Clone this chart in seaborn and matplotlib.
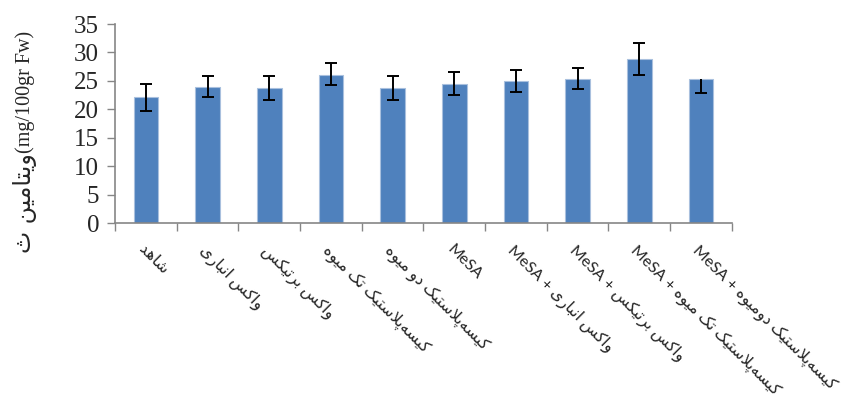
import numpy as np
import pandas as pd
import matplotlib
matplotlib.use('Agg')
import matplotlib.pyplot as plt
import seaborn as sns

# treatments (logical Persian text), bar values and error bars
treatments = [
    'شاهد',
    'واکس انباری',
    'واکس برتیکس',
    'کیسه\u200cپلاستیک تک میوه',
    'کیسه\u200cپلاستیک دو میوه',
    '',
    'واکس انباری',
    'واکس برتیکس',
    'کیسه\u200cپلاستیک تک میوه',
    'کیسه\u200cپلاستیک دومیوه',
]
prefixes = ['', '', '', '', '', 'MeSA', 'MeSA + ', 'MeSA + ', 'MeSA + ', 'MeSA + ']
vitamin_c = [22.1, 24.0, 23.7, 26.1, 23.7, 24.5, 24.9, 25.4, 28.8, 25.4]
err_low = [2.4, 1.9, 2.1, 1.9, 2.1, 2.0, 1.9, 1.9, 2.7, 2.5]
err_high = [2.4, 1.9, 2.1, 2.0, 2.2, 2.1, 2.0, 1.9, 2.8, 0.0]
y_ticks = [0, 5, 10, 15, 20, 25, 30, 35]
ylabel_fa = 'ویتامین ث'
ylabel_unit = '(mg/100gr Fw)'

# minimal Persian shaping (matplotlib has no text shaping / bidi)
FORMS = {
    'ا': ('\uFE8D', '\uFE8E'),
    'د': ('\uFEA9', '\uFEAA'),
    'ر': ('\uFEAD', '\uFEAE'),
    'و': ('\uFEED', '\uFEEE'),
    'ب': ('\uFE8F', '\uFE90', '\uFE91', '\uFE92'),
    'ت': ('\uFE95', '\uFE96', '\uFE97', '\uFE98'),
    'ث': ('\uFE99', '\uFE9A', '\uFE9B', '\uFE9C'),
    'س': ('\uFEB1', '\uFEB2', '\uFEB3', '\uFEB4'),
    'ش': ('\uFEB5', '\uFEB6', '\uFEB7', '\uFEB8'),
    'ل': ('\uFEDD', '\uFEDE', '\uFEDF', '\uFEE0'),
    'م': ('\uFEE1', '\uFEE2', '\uFEE3', '\uFEE4'),
    'ن': ('\uFEE5', '\uFEE6', '\uFEE7', '\uFEE8'),
    'ه': ('\uFEE9', '\uFEEA', '\uFEEB', '\uFEEC'),
    'پ': ('\uFB56', '\uFB57', '\uFB58', '\uFB59'),
    'ک': ('\uFB8E', '\uFB8F', '\uFB90', '\uFB91'),
    'ی': ('\uFBFC', '\uFBFD', '\uFBFE', '\uFBFF'),
}


def shape(text):
    out = []
    prev_conn = False
    i = 0
    while i < len(text):
        c = text[i]
        if c == 'ل' and i + 1 < len(text) and text[i + 1] == 'ا':
            out.append('\uFEFC' if prev_conn else '\uFEFB')
            prev_conn = False
            i += 2
            continue
        forms = FORMS.get(c)
        if forms is None:
            if c != '\u200c':
                out.append(c)
            prev_conn = False
            i += 1
            continue
        nxt = text[i + 1] if i + 1 < len(text) else ''
        next_conn = len(forms) == 4 and nxt in FORMS
        if prev_conn and next_conn:
            out.append(forms[3])
        elif prev_conn:
            out.append(forms[1])
        elif next_conn:
            out.append(forms[2])
        else:
            out.append(forms[0])
        prev_conn = len(forms) == 4
        i += 1
    return ''.join(out)


def rtl(text):
    return shape(text)[::-1]


df = pd.DataFrame({'treatment': [f'T{i}' for i in range(len(vitamin_c))],
                   'value': vitamin_c})

sns.set_style('white')
plt.rcParams['font.family'] = ['Liberation Serif', 'DejaVu Sans']

fig, ax = plt.subplots(figsize=(8.65, 3.94), dpi=100)
fig.subplots_adjust(left=0.133, right=0.846, bottom=0.434, top=0.939)

sns.barplot(data=df, x='treatment', y='value', color='#4f81bd', width=0.4,
            edgecolor='#a9c0de', linewidth=0.8, saturation=1, ax=ax)

x = np.arange(len(vitamin_c))
ax.errorbar(x[:-1], vitamin_c[:-1], yerr=[err_low[:-1], err_high[:-1]], fmt='none',
            ecolor='black', elinewidth=1.4, capsize=4.5, capthick=1.4, zorder=5)
# last bar only shows the lower whisker
_, caps, _ = ax.errorbar(x[-1:], vitamin_c[-1:], yerr=[err_low[-1:], err_high[-1:]],
                         fmt='none', ecolor='black', elinewidth=1.4, capsize=4.5,
                         capthick=1.4, zorder=5)
caps[1].remove()

ax.set_xlim(-0.5, len(vitamin_c) - 0.5)
ax.set_ylim(0, 35)
ax.set_yticks(y_ticks)
ax.tick_params(axis='y', labelsize=18, length=6, width=1, color='#868686',
               direction='out', left=True, pad=5.5)

labels = [p + rtl(t) for p, t in zip(prefixes, treatments)]
ax.set_xticks(x)
ax.set_xticklabels(labels, rotation=-45, rotation_mode='anchor', ha='left', va='top',
                   fontsize=11.5, family=['Lato', 'DejaVu Sans'])
ax.tick_params(axis='x', which='major', length=0, pad=14)
ax.set_xticks(np.arange(len(vitamin_c) + 1) - 0.5, minor=True)
ax.tick_params(axis='x', which='minor', length=6, width=1, color='#868686',
               direction='out', bottom=True)

ax.set_xlabel('')
ax.set_ylabel('')
# y label: Latin unit part in serif, Persian part in DejaVu Sans
ax.text(-0.146, 0.352, ylabel_unit, transform=ax.transAxes, rotation=90,
        ha='center', va='bottom', fontsize=14.5, family='Liberation Serif')
ax.text(-0.146, 0.352, rtl(ylabel_fa), transform=ax.transAxes, rotation=90,
        ha='center', va='top', fontsize=17, family='DejaVu Sans')

for side in ['top', 'right']:
    ax.spines[side].set_visible(False)
for side in ['left', 'bottom']:
    ax.spines[side].set_color('#868686')
    ax.spines[side].set_linewidth(1.2)

fig.savefig('out.png', dpi=100)
